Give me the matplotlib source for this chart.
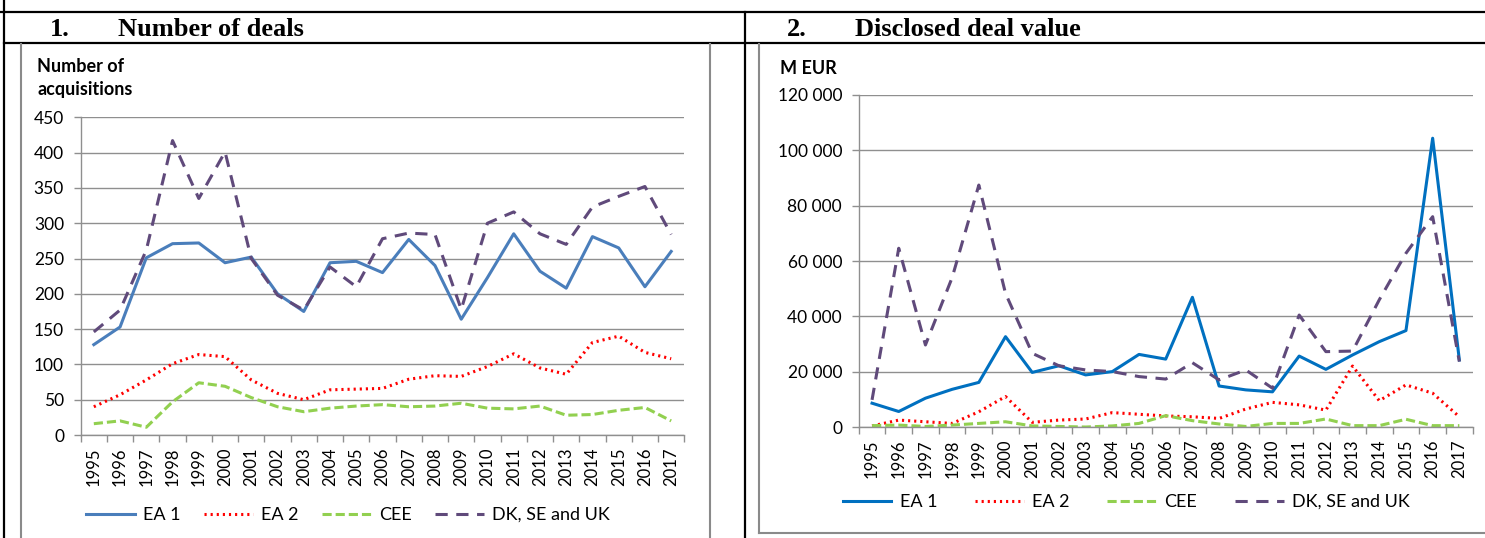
import matplotlib
matplotlib.use("Agg")
import matplotlib.pyplot as plt
import numpy as np
from matplotlib.lines import Line2D

plt.rcParams['font.family'] = ['Lato', 'DejaVu Sans']

years = ['1995', '1996', '1997', '1998', '1999', '2000', '2001', '2002',
         '2003', '2004', '2005', '2006', '2007', '2008', '2009', '2010',
         '2011', '2012', '2013', '2014', '2015', '2016', '2017']
series_names = ['EA 1', 'EA 2', 'CEE', 'DK, SE and UK']

# 1. number of deals
deals_ea1 = [128, 153, 251, 271, 272, 244, 252, 200, 175, 244, 246, 230,
             277, 240, 164, 223, 285, 232, 208, 281, 265, 210, 260]
deals_ea2 = [40, 57, 78, 101, 114, 111, 78, 59, 50, 64, 65, 66,
             79, 84, 83, 97, 115, 95, 86, 131, 140, 117, 108]
deals_cee = [16, 20, 11, 47, 74, 69, 53, 40, 33, 38, 41, 43,
             40, 41, 45, 38, 37, 41, 28, 29, 35, 39, 20]
deals_dk = [146, 177, 262, 417, 335, 401, 250, 198, 177, 238, 210, 278,
            286, 284, 178, 300, 316, 285, 270, 323, 338, 352, 284]

# 2. disclosed deal value, M EUR
value_ea1 = [8700, 5700, 10500, 13700, 16200, 32700, 19800, 22200, 18900,
             20100, 26300, 24600, 46900, 14900, 13500, 12800, 25700, 20900,
             26100, 30900, 34900, 104300, 24300]
value_ea2 = [500, 2600, 2000, 1400, 5600, 11100, 1800, 2600, 3000, 5300,
             4700, 4100, 3800, 3200, 6600, 9000, 8100, 6200, 22100, 9600,
             15300, 12300, 3800]
value_cee = [600, 800, 300, 800, 1400, 2000, 500, 300, 100, 500, 1400,
             4200, 2400, 1200, 300, 1400, 1400, 3000, 600, 600, 2900, 600, 600]
value_dk = [9900, 64600, 29700, 54000, 87400, 48300, 26700, 22200, 20700,
            20100, 18300, 17400, 23300, 17100, 20700, 14100, 40500, 27300,
            27500, 46000, 62800, 76000, 23700]

W, H = 1485, 538
def fx(x):
    return x / W
def fy(y):
    return 1 - y / H

GRID = '#8f8f8f'
fig = plt.figure(figsize=(W / 100, H / 100), dpi=100)

# table frame around the two charts
frame = dict(color='black', lw=1.6, transform=fig.transFigure)
fig.add_artist(Line2D([0, 1], [fy(12), fy(12)], **frame))
fig.add_artist(Line2D([fx(4), 1], [fy(43), fy(43)], **frame))
fig.add_artist(Line2D([fx(4), fx(4)], [0, 1], **frame))
fig.add_artist(Line2D([fx(745), fx(745)], [0, fy(12)], **frame))

box = dict(color='#8a8a8a', lw=1.5, transform=fig.transFigure)
fig.add_artist(Line2D([fx(21), fx(21)], [0, fy(44)], **box))
fig.add_artist(Line2D([fx(710), fx(710)], [0, fy(44)], **box))
fig.add_artist(Line2D([fx(759), fx(759)], [fy(533), fy(44)], **box))
fig.add_artist(Line2D([fx(759), 1], [fy(533), fy(533)], **box))

head = dict(fontsize=19, fontweight='bold', family='Liberation Serif', va='center')
fig.text(fx(50), fy(29), '1.', **head)
fig.text(fx(118), fy(29), 'Number of deals', **head)
fig.text(fx(787), fy(29), '2.', **head)
fig.text(fx(855), fy(29), 'Disclosed deal value', **head)

lab = dict(fontsize=13, fontweight='bold', va='center')
fig.text(fx(37), fy(67), 'Number of', **lab)
fig.text(fx(37), fy(90), 'acquisitions', **lab)
fig.text(fx(780), fy(68), 'M EUR', **lab)

axL = fig.add_axes([fx(80.7), fy(435), (684.3 - 80.7) / W, (435 - 117.3) / H])
axR = fig.add_axes([fx(858.7), fy(427.3), (1472.7 - 858.7) / W, (427.3 - 94.7) / H])

def style(ax, ymax, step, fmt):
    ax.set_xlim(-0.5, 22.5)
    ax.set_ylim(0, ymax)
    ticks = np.arange(0, ymax + 1, step)
    ax.set_yticks(ticks)
    ax.set_yticklabels([fmt(t) for t in ticks])
    ax.yaxis.grid(True, color=GRID, lw=1)
    ax.set_axisbelow(True)
    for s in ['top', 'right']:
        ax.spines[s].set_visible(False)
    for s in ['left', 'bottom']:
        ax.spines[s].set_color(GRID)
        ax.spines[s].set_linewidth(1)
    ax.set_xticks(range(len(years)))
    ax.set_xticklabels(years, rotation=90)
    ax.set_xticks(np.arange(-0.5, len(years)), minor=True)
    ax.tick_params(axis='x', which='major', length=0, pad=9, labelsize=12, colors='black')
    ax.tick_params(axis='x', which='minor', length=5, color=GRID, width=1)
    ax.tick_params(axis='y', length=5, color=GRID, width=1, pad=7, labelsize=12.5)

lw = 2.2
def draw(ax, ea1, ea2, cee, dk, blue):
    x = np.arange(len(years))
    ax.plot(x, ea1, color=blue, lw=lw, label=series_names[0])
    ax.plot(x, ea2, color='#ff0000', lw=lw, dashes=(0.7, 1.3), label=series_names[1])
    ax.plot(x, cee, color='#92d050', lw=lw, dashes=(3, 1.3), label=series_names[2])
    ax.plot(x, dk, color='#604a7b', lw=lw, dashes=(4, 2.8), label=series_names[3])

draw(axL, deals_ea1, deals_ea2, deals_cee, deals_dk, '#4a7ebb')
draw(axR, value_ea1, value_ea2, value_cee, value_dk, '#0070c0')
style(axL, 450, 50, lambda t: f'{int(t)}')
style(axR, 120000, 20000, lambda t: f'{int(t):,}'.replace(',', ' '))

for ax, cx, cy, cs in [(axL, 348, 515, 1.3), (axR, 1126, 502, 2.1)]:
    h, l = ax.get_legend_handles_labels()
    fig.legend(h, l, loc='center', bbox_to_anchor=(fx(cx), fy(cy)), ncol=4,
               frameon=False, fontsize=13, handlelength=2.7, columnspacing=cs,
               handletextpad=0.45)

fig.savefig('out.png', dpi=100)
